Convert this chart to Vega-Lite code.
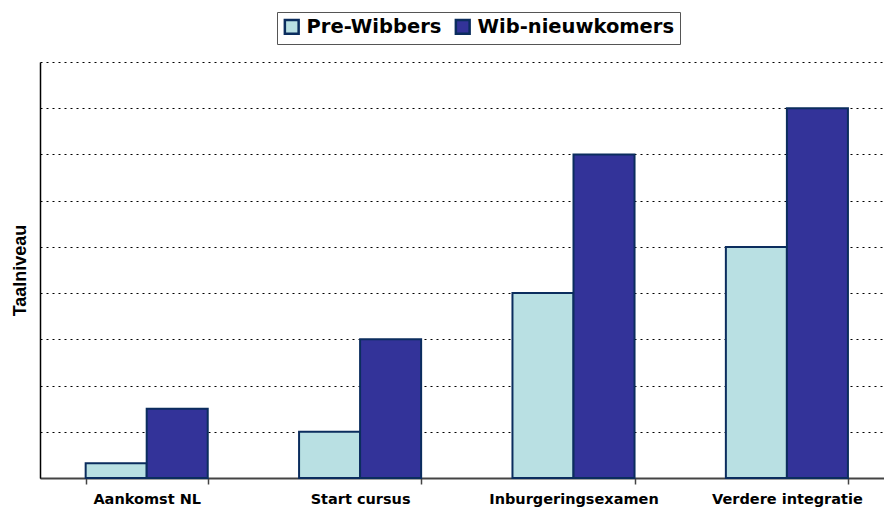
{
  "$schema": "https://vega.github.io/schema/vega-lite/v6.json",
  "width": 844,
  "height": 416,
  "autosize": {"type": "none"},
  "padding": {"left": 40, "top": 62, "right": 0, "bottom": 30},
  "background": "white",
  "config": {"view": {"stroke": null}},
  "data": {
    "values": [
      {"fase": "Aankomst NL", "groep": "Pre-Wibbers", "niveau": 0.32},
      {"fase": "Aankomst NL", "groep": "Wib-nieuwkomers", "niveau": 1.5},
      {"fase": "Start cursus", "groep": "Pre-Wibbers", "niveau": 1},
      {"fase": "Start cursus", "groep": "Wib-nieuwkomers", "niveau": 3},
      {"fase": "Inburgeringsexamen", "groep": "Pre-Wibbers", "niveau": 4},
      {"fase": "Inburgeringsexamen", "groep": "Wib-nieuwkomers", "niveau": 7},
      {"fase": "Verdere integratie", "groep": "Pre-Wibbers", "niveau": 5},
      {"fase": "Verdere integratie", "groep": "Wib-nieuwkomers", "niveau": 8}
    ]
  },
  "mark": {"type": "bar", "stroke": "#0B2D5E", "strokeWidth": 2},
  "encoding": {
    "x": {
      "field": "fase",
      "type": "nominal",
      "sort": null,
      "scale": {"range": [0, 853.6], "paddingInner": 0.428, "paddingOuter": 0.214},
      "axis": {
        "title": null,
        "labelAngle": 0,
        "labelFont": "DejaVu Sans",
        "labelFontWeight": "bold",
        "labelFontSize": 14.5,
        "labelColor": "#000000",
        "labelPadding": 8,
        "labelLimit": 400,
        "tickBand": "extent",
        "tickSize": 6,
        "tickColor": "#444444",
        "tickWidth": 1.5,
        "domainColor": "#444444",
        "domainWidth": 2,
        "grid": false
      }
    },
    "xOffset": {
      "field": "groep",
      "type": "nominal",
      "sort": ["Pre-Wibbers", "Wib-nieuwkomers"],
      "scale": {"paddingInner": 0, "paddingOuter": 0}
    },
    "y": {
      "field": "niveau",
      "type": "quantitative",
      "scale": {"domain": [0, 9], "nice": false},
      "axis": {
        "title": "Taalniveau",
        "titleFont": "Liberation Sans",
        "titleFontWeight": "bold",
        "titleFontSize": 18,
        "titleColor": "#000000",
        "titlePadding": 11,
        "labels": false,
        "labelOverlap": false,
        "ticks": false,
        "values": [0, 1, 2, 3, 4, 5, 6, 7, 8, 9],
        "domainColor": "#000000",
        "domainWidth": 1.5,
        "grid": true,
        "gridColor": "#000000",
        "gridDash": [2, 4],
        "gridWidth": 1
      }
    },
    "color": {
      "field": "groep",
      "type": "nominal",
      "sort": ["Pre-Wibbers", "Wib-nieuwkomers"],
      "scale": {"domain": ["Pre-Wibbers", "Wib-nieuwkomers"], "range": ["#B9E0E3", "#333399"]},
      "legend": {
        "title": null,
        "orient": "none",
        "legendX": 237,
        "legendY": -50,
        "direction": "horizontal",
        "columns": 2,
        "symbolType": "square",
        "symbolSize": 190,
        "symbolStrokeColor": "#0B2D5E",
        "symbolStrokeWidth": 2.5,
        "labelFont": "DejaVu Sans",
        "labelFontWeight": "bold",
        "labelFontSize": 19.5,
        "labelLimit": 400,
        "labelColor": "#000000",
        "labelOffset": 5,
        "columnPadding": 8,
        "strokeColor": "#555555",
        "padding": 5
      }
    }
  }
}
